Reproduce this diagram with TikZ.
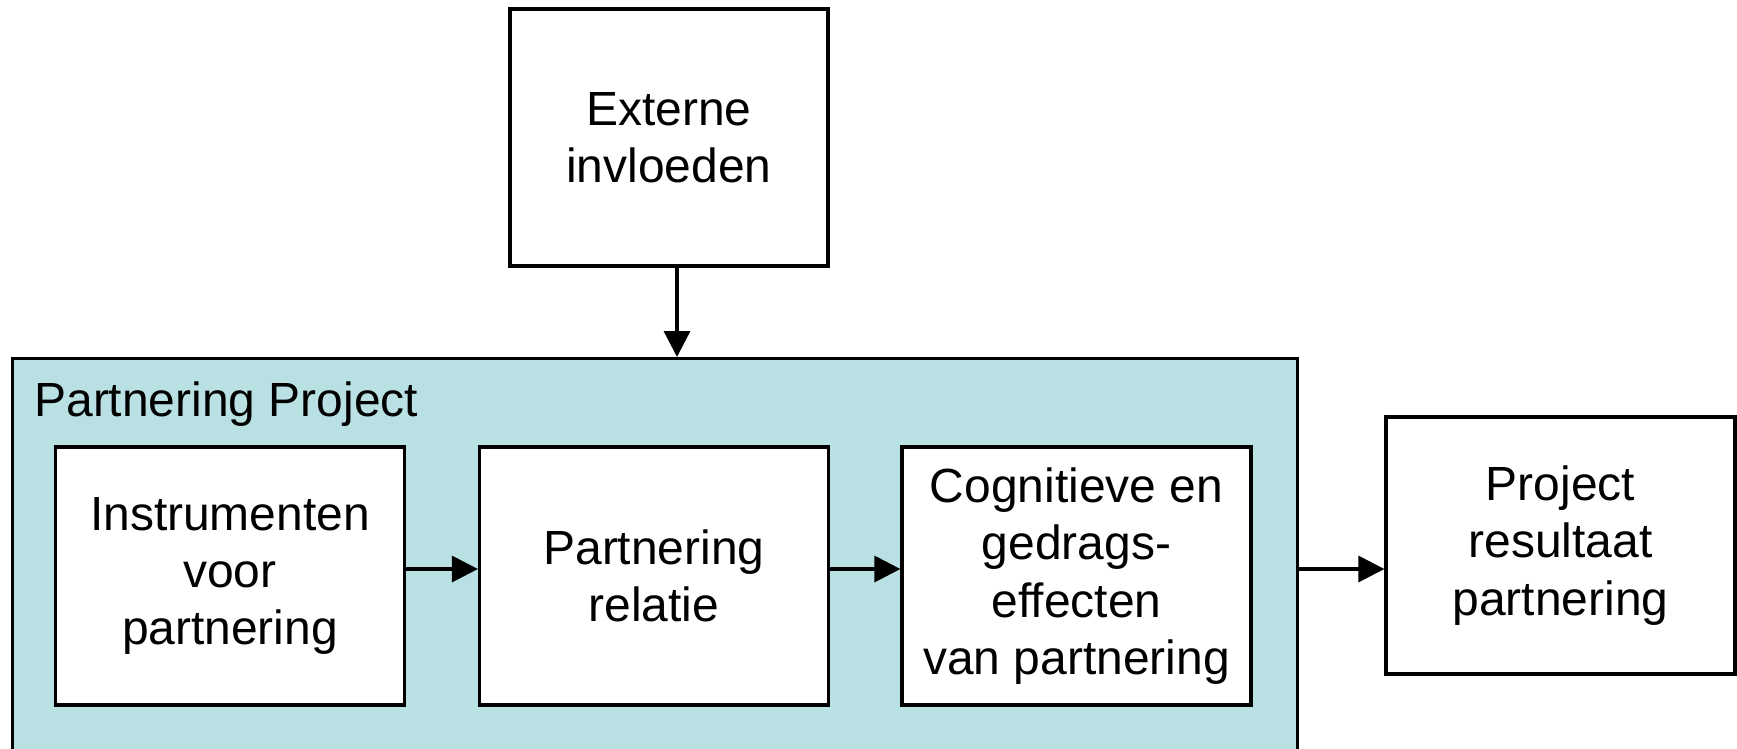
\documentclass[tikz,border=0pt]{standalone}
\usepackage{fontspec}
\setmainfont{Liberation Sans}
\usetikzlibrary{arrows.meta}
\definecolor{projfill}{RGB}{185,224,227}

\begin{document}
\begin{tikzpicture}[x=0.02cm,y=-0.02cm,
  tekst/.style={font=\fontsize{27.3}{32.6}\selectfont},
  box/.style={tekst,draw,line width=0.066cm,fill=white,align=center,inner sep=0pt,
    minimum width=6.98cm,minimum height=5.16cm},
  pijl/.style={line width=0.066cm,-{Triangle[length=0.52cm,width=0.52cm]}}]
 \clip (0,0) rectangle (1737,748);
 \node[draw,line width=0.066cm,fill=projfill,anchor=north west,inner sep=0pt,
   minimum width=25.7cm,minimum height=9cm] (project) at (11,357) {};
 \node[tekst,anchor=base west,inner sep=0pt] (titel) at (34,416) {Partnering Project};
 \node[box,minimum width=6.36cm,minimum height=5.14cm] (extern) at (669,137.5) {Externe\\invloeden};
 \node[box] (instr) at (230,576) {Instrumenten\\voor\\partnering};
 \node[box] (relatie) at (654,576) {Partnering\\relatie};
 \node[box] (effect) at (1076.5,576) {Cognitieve en\\gedrags-\\effecten\\van partnering};
 \node[box,minimum height=5.14cm] (result) at (1560.5,545.5) {Project\\resultaat\\partnering};
 \coordinate (lijn) at (0,569);
 \coordinate (midden) at (677,0);
 \draw[pijl] (extern.south -| midden) -- (project.north -| midden);
 \draw[pijl] (instr.east |- lijn) -- (relatie.west |- lijn);
 \draw[pijl] (relatie.east |- lijn) -- (effect.west |- lijn);
 \draw[pijl] (project.east |- lijn) -- (result.west |- lijn);
\end{tikzpicture}
\end{document}
